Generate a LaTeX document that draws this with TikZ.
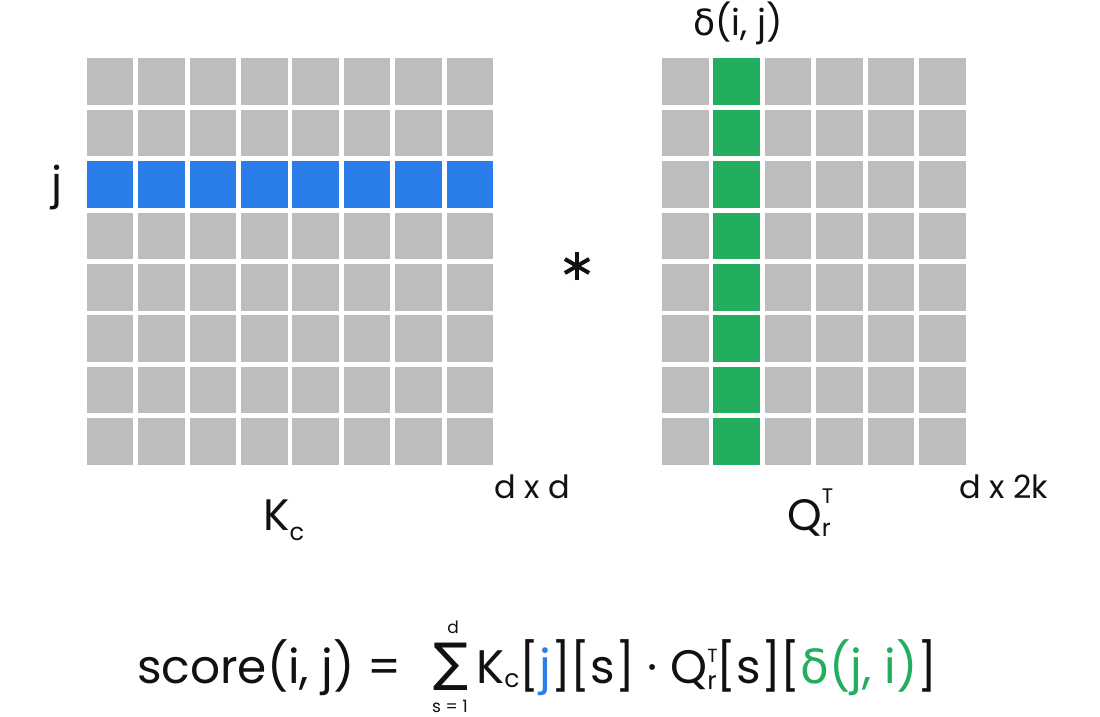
\documentclass[tikz,border=0pt]{standalone}
\usepackage{fontspec}
\setmainfont{Poppins}
\newfontfamily\symfont{DejaVu Sans}
\usepackage{xcolor}
\definecolor{CellGray}{HTML}{BDBDBD}
\definecolor{RowBlue}{HTML}{2B7DE9}
\definecolor{ColGreen}{HTML}{23AE5F}
\definecolor{InkBlack}{HTML}{111111}
\usetikzlibrary{positioning}
% lowered index: drop (pt), size (pt), text
\newcommand{\lowidx}[3]{\raisebox{-#1pt}{\fontsize{#2}{#2}\selectfont #3}}
% T over r: raise, size of T, drop, size of r
\newcommand{\qidx}[4]{\rlap{\raisebox{#1pt}{\fontsize{#2}{#2}\selectfont T}}%
  \raisebox{-#3pt}{\fontsize{#4}{#4}\selectfont r}}

\begin{document}
\begin{tikzpicture}[x=1pt, y=-1pt]
  \useasboundingbox[fill=white] (0,0) rectangle (1100,717);

  % Left matrix K_c (8 x 8), row j in blue
  \foreach \c in {0,...,7}
    \foreach \r in {0,...,7}
      \fill[CellGray] ({86.7+\c*51.43},{58.3+\r*51.43}) rectangle ++(46.6,46.6);
  \foreach \c in {0,...,7}
    \fill[RowBlue] ({86.7+\c*51.43},{58.3+2*51.43}) rectangle ++(46.6,46.6);

  % Right matrix Q_r^T (8 x 6), column delta(i,j) in green
  \foreach \c in {0,...,5}
    \foreach \r in {0,...,7}
      \fill[CellGray] ({662+\c*51.43},{58.3+\r*51.43}) rectangle ++(46.6,46.6);
  \foreach \r in {0,...,7}
    \fill[ColGreen] ({662+51.43},{58.3+\r*51.43}) rectangle ++(46.6,46.6);

  % Labels round the matrices
  \node[InkBlack, inner sep=0, anchor=base west, font=\fontsize{44}{44}\selectfont]
    (rowj) at (51,198) {j};
  \node[InkBlack, inner sep=0, anchor=base, font=\fontsize{36}{36}\selectfont]
    (colidx) at (738,36) {{\symfont δ}(i, j)};
  \node[InkBlack, inner sep=0, anchor=base west, font=\fontsize{44}{44}\selectfont]
    (kname) at (263,530) {K\lowidx{10}{24}{c}};
  \node[InkBlack, inner sep=0, anchor=base west, font=\fontsize{44}{44}\selectfont]
    (qname) at (787,530) {Q\qidx{27}{21}{6}{24}};
  \node[InkBlack, inner sep=0, anchor=base west, font=\fontsize{32}{32}\selectfont]
    (kdim) at (494,498) {d x d};
  \node[InkBlack, inner sep=0, anchor=base west, font=\fontsize{32}{32}\selectfont]
    (qdim) at (959,498) {d x 2k};

  % Product sign
  \coordinate (star) at (577,266);
  \foreach \a in {90,30,-30}
    \draw[InkBlack, line width=4pt] ([shift={(\a:14)}]star) -- ([shift={(\a+180:14)}]star);

  % Score formula
  \node[InkBlack, inner sep=0, anchor=base west, font=\fontsize{47}{47}\selectfont]
    (lhs) at (137,683) {score(i, j) =};
  \node[InkBlack, inner sep=0, font=\symfont\fontsize{52}{52}\selectfont]
    (sum) at (451,667) {∑};
  \node[InkBlack, inner sep=0, anchor=base, font=\fontsize{17}{17}\selectfont]
    (sumtop) at (453,633) {d};
  \node[InkBlack, inner sep=0, anchor=base, font=\fontsize{17}{17}\selectfont]
    (sumbot) at (450,712) {s = 1};
  \node[InkBlack, inner sep=0, anchor=base west, font=\fontsize{47}{47}\selectfont]
    (rhs) at (476,683) {K\lowidx{4}{25}{c}[\textcolor{RowBlue}{j}][s] · Q\qidx{21}{19}{6}{25}[s][\textcolor{ColGreen}{{\symfont δ}(j, i)}]};
\end{tikzpicture}
\end{document}
